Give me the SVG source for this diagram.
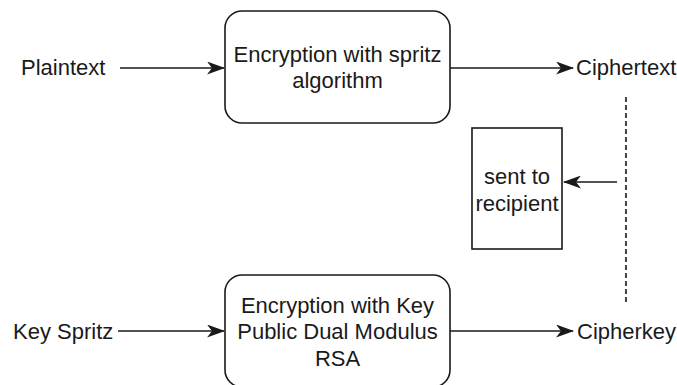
<svg xmlns="http://www.w3.org/2000/svg" width="677" height="385" viewBox="0 0 677 385">
<style>
text{font-family:"Liberation Sans",Arial,Helvetica,sans-serif;font-size:22px;fill:#1a1a1a}
.box{fill:#fff;stroke:#1a1a1a;stroke-width:1.6}
.edge{fill:none;stroke:#1a1a1a;stroke-width:1.6}
.mid{text-anchor:middle}
</style>
<defs>
<marker id="arr" viewBox="0 0 18 13" refX="17" refY="6.5" markerWidth="18" markerHeight="13" markerUnits="userSpaceOnUse" orient="auto">
<path d="M0,0 L18,6.5 L0,13 L5,6.5 Z" fill="#1a1a1a"/>
</marker>
</defs>
<rect width="677" height="385" fill="#fff"/>
<g id="connectors">
<line class="edge" x1="120" y1="68" x2="224" y2="68" marker-end="url(#arr)"/>
<line class="edge" x1="450" y1="68" x2="573" y2="68" marker-end="url(#arr)"/>
<line class="edge" x1="118" y1="331" x2="224" y2="331" marker-end="url(#arr)"/>
<line class="edge" x1="450" y1="331" x2="573" y2="331" marker-end="url(#arr)"/>
<line class="edge" x1="617" y1="182" x2="564" y2="182" marker-end="url(#arr)"/>
<line class="edge" x1="626" y1="97" x2="626" y2="303" stroke-dasharray="5 3"/>
</g>
<g id="plaintext"><text x="21" y="75">Plaintext</text></g>
<g id="enc-spritz">
<rect class="box" x="225" y="11" width="225" height="112" rx="17"/>
<text class="mid" x="337.5" y="62">Encryption with spritz</text>
<text class="mid" x="337.5" y="88">algorithm</text>
</g>
<g id="ciphertext"><text x="576" y="75">Ciphertext</text></g>
<g id="sent">
<rect class="box" x="472" y="128" width="90" height="121"/>
<text class="mid" x="517" y="184">sent to</text>
<text class="mid" x="517" y="211">recipient</text>
</g>
<g id="keyspritz"><text x="13" y="339">Key Spritz</text></g>
<g id="enc-rsa">
<rect class="box" x="225" y="275" width="225" height="112" rx="17"/>
<text class="mid" x="337.5" y="313">Encryption with Key</text>
<text class="mid" x="337.5" y="339">Public Dual Modulus</text>
<text class="mid" x="337.5" y="366">RSA</text>
</g>
<g id="cipherkey"><text x="577" y="339">Cipherkey</text></g>
</svg>
